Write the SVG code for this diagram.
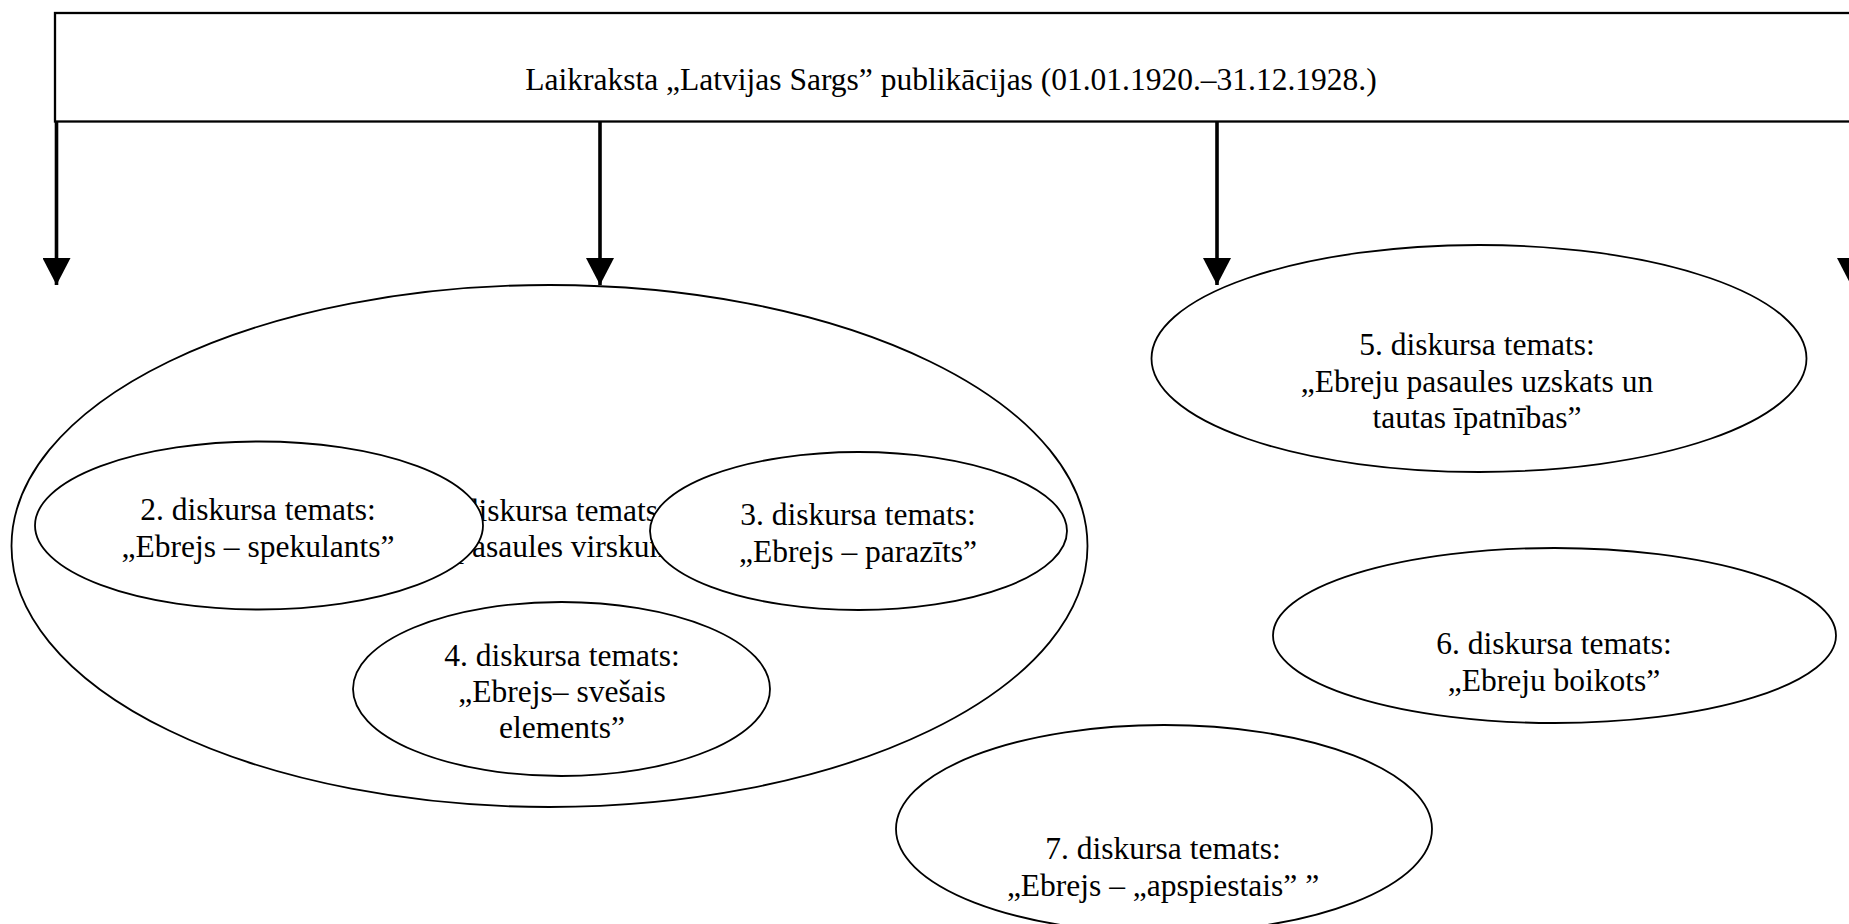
<svg xmlns="http://www.w3.org/2000/svg" width="1849" height="924" viewBox="0 0 1849 924">
<style>
text{font-family:"Liberation Serif","Times New Roman",serif;font-size:31.5px;fill:#000;text-anchor:middle}
.oval{fill:#fff;stroke:#000;stroke-width:1.8}
.box{fill:#fff;stroke:#000;stroke-width:2.3}
.arrow{stroke:#000;stroke-width:3.6;fill:none;marker-end:url(#head)}
</style>
<defs>
<marker id="head" viewBox="0 0 27 28" markerWidth="27" markerHeight="28" markerUnits="userSpaceOnUse" refX="27" refY="14" orient="auto">
<path d="M0,0 L27,14 L0,28 z" fill="#000"/>
</marker>
</defs>
<rect width="1849" height="924" fill="#fff"/>
<g id="title">
<rect class="box" x="55" y="13" width="1820" height="108.5"/>
<text x="951" y="90">Laikraksta „Latvijas Sargs” publikācijas (01.01.1920.–31.12.1928.)</text>
</g>
<g id="connectors">
<line class="arrow" x1="56.5" y1="121" x2="56.5" y2="285"/>
<line class="arrow" x1="600" y1="121" x2="600" y2="285"/>
<line class="arrow" x1="1217" y1="121" x2="1217" y2="285"/>
<line class="arrow" x1="1851" y1="121" x2="1851" y2="285"/>
</g>
<g id="topic1">
<ellipse class="oval" cx="549.5" cy="546" rx="538" ry="261"/>
<text x="549" y="521">1. diskursa temats:</text>
<text x="549" y="557">„Ebreju pasaules virskundzība”</text>
</g>
<g id="topic2">
<ellipse class="oval" cx="259" cy="525.5" rx="224" ry="84"/>
<text x="258" y="520">2. diskursa temats:</text>
<text x="258" y="557">„Ebrejs – spekulants”</text>
</g>
<g id="topic3">
<ellipse class="oval" cx="858.5" cy="531" rx="208.5" ry="79"/>
<text x="858" y="525">3. diskursa temats:</text>
<text x="858" y="562">„Ebrejs – parazīts”</text>
</g>
<g id="topic4">
<ellipse class="oval" cx="561.5" cy="689" rx="208.5" ry="87"/>
<text x="562" y="666">4. diskursa temats:</text>
<text x="562" y="702">„Ebrejs– svešais</text>
<text x="562" y="738">elements”</text>
</g>
<g id="topic5">
<ellipse class="oval" cx="1479" cy="358.5" rx="327.5" ry="113.5"/>
<text x="1477" y="355">5. diskursa temats:</text>
<text x="1477" y="392">„Ebreju pasaules uzskats un</text>
<text x="1477" y="428">tautas īpatnības”</text>
</g>
<g id="topic6">
<ellipse class="oval" cx="1554.5" cy="635.5" rx="281.5" ry="87.5"/>
<text x="1554" y="654">6. diskursa temats:</text>
<text x="1554" y="691">„Ebreju boikots”</text>
</g>
<g id="topic7">
<ellipse class="oval" cx="1164" cy="829" rx="268" ry="104"/>
<text x="1163" y="859">7. diskursa temats:</text>
<text x="1163" y="896">„Ebrejs – „apspiestais” ”</text>
</g>
</svg>
